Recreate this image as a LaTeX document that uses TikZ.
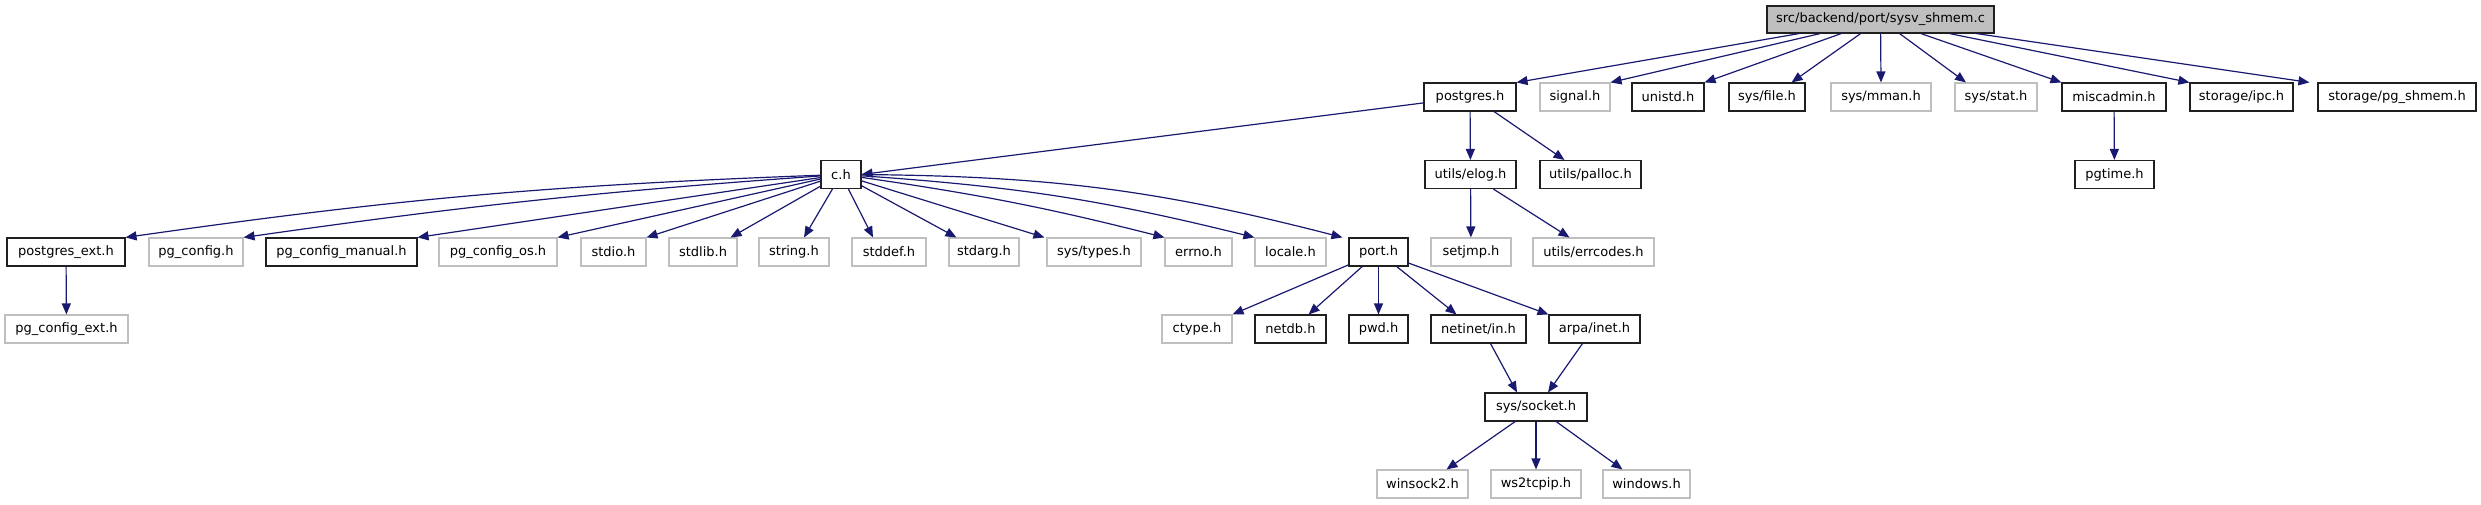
\documentclass[tikz,border=0pt]{standalone}
\usepackage{fontspec}
\setmainfont{DejaVu Sans}
\usetikzlibrary{arrows.meta}
\definecolor{edgeblue}{HTML}{191970}
\definecolor{undoc}{HTML}{BFBFBF}
\definecolor{docborder}{HTML}{202020}
\begin{document}
\begin{tikzpicture}[x=0.5pt,y=0.5pt,
  box/.style={rectangle, inner sep=0pt, minimum height=14pt, line width=0.55pt, font=\fontsize{6.5}{7.5}\selectfont},
  nb/.style={box, draw=docborder, fill=white},
  ng/.style={box, draw=undoc, fill=white},
  nr/.style={box, draw=docborder, fill=undoc, minimum height=13.5pt},
  dep/.style={draw=edgeblue, line width=0.6pt, -{Triangle[length=5.5pt,width=4.5pt]}}
]
\useasboundingbox (0,0) rectangle (2481,504);
% row 1
\node[nr, minimum width=113.5pt] (root) at (1880.5,484.5) {src/backend/port/sysv\_shmem.c};
% row 2
\node[nb, minimum width=46pt] (postgres) at (1470,407) {postgres.h};
\node[ng, minimum width=35pt] (signal) at (1575,407) {signal.h};
\node[nb, minimum width=36pt] (unistd) at (1668,407) {unistd.h};
\node[nb, minimum width=38pt] (sysfile) at (1767,407) {sys/file.h};
\node[ng, minimum width=50pt] (sysmman) at (1881,407) {sys/mman.h};
\node[ng, minimum width=41pt] (sysstat) at (1996,407) {sys/stat.h};
\node[nb, minimum width=52pt] (miscadmin) at (2114,407) {miscadmin.h};
\node[nb, minimum width=51.5pt] (ipc) at (2241.5,407) {storage/ipc.h};
\node[nb, minimum width=79pt] (pgshmem) at (2397,407) {storage/pg\_shmem.h};
% row 3
\node[nb, minimum width=20pt] (c) at (841,329.5) {c.h};
\node[nb, minimum width=45.5pt] (elog) at (1470.5,329.5) {utils/elog.h};
\node[nb, minimum width=50.5pt] (palloc) at (1590.5,329.5) {utils/palloc.h};
\node[nb, minimum width=39.5pt] (pgtime) at (2114.5,329.5) {pgtime.h};
% row 4
\node[nb, minimum width=59pt] (pe) at (66,252) {postgres\_ext.h};
\node[ng, minimum width=47pt] (pgconfig) at (196,252) {pg\_config.h};
\node[nb, minimum width=75.5pt] (pgcm) at (341.5,252) {pg\_config\_manual.h};
\node[ng, minimum width=59pt] (pgcos) at (498,252) {pg\_config\_os.h};
\node[ng, minimum width=32.5pt] (stdio) at (613.5,252) {stdio.h};
\node[ng, minimum width=34pt] (stdlib) at (703,252) {stdlib.h};
\node[ng, minimum width=35pt] (string) at (794,252) {string.h};
\node[ng, minimum width=37pt] (stddef) at (889,252) {stddef.h};
\node[ng, minimum width=35pt] (stdarg) at (984,252) {stdarg.h};
\node[ng, minimum width=47pt] (systypes) at (1094,252) {sys/types.h};
\node[ng, minimum width=33.5pt] (errno) at (1198.5,252) {errno.h};
\node[ng, minimum width=35.5pt] (locale) at (1290.5,252) {locale.h};
\node[nb, minimum width=29.5pt] (port) at (1378.5,252) {port.h};
\node[ng, minimum width=40pt] (setjmp) at (1471,252) {setjmp.h};
\node[ng, minimum width=60.5pt] (errcodes) at (1593.5,252) {utils/errcodes.h};
% row 5
\node[ng, minimum width=61.5pt] (pgce) at (66.5,175) {pg\_config\_ext.h};
\node[ng, minimum width=35pt] (ctype) at (1197,175) {ctype.h};
\node[nb, minimum width=35.5pt] (netdb) at (1290.5,175) {netdb.h};
\node[nb, minimum width=29.5pt] (pwd) at (1378.5,175) {pwd.h};
\node[nb, minimum width=47.5pt] (netinet) at (1478.5,175) {netinet/in.h};
\node[nb, minimum width=45.5pt] (arpa) at (1594.5,175) {arpa/inet.h};
% row 6
\node[nb, minimum width=51pt] (socket) at (1536,97) {sys/socket.h};
% row 7
\node[ng, minimum width=45.5pt] (winsock) at (1422.5,20) {winsock2.h};
\node[ng, minimum width=45pt] (ws2) at (1536,20) {ws2tcpip.h};
\node[ng, minimum width=43.5pt] (windows) at (1646.5,20) {windows.h};
% edges from root
\draw[dep] (root) -- (postgres.north east);
\draw[dep] (root) -- (signal.north east);
\draw[dep] (root) -- (unistd.north east);
\draw[dep] (root) -- ([xshift=-7pt]sysfile.north east);
\draw[dep] (root) -- (sysmman.north);
\draw[dep] (root) -- ([xshift=-15pt]sysstat.north);
\draw[dep] (root) -- (miscadmin.north west);
\draw[dep] (root) -- (ipc.north west);
\draw[dep] (root) -- ([xshift=-4pt]pgshmem.north west);
% postgres.h
\draw[dep] (postgres) -- (c.east);
\draw[dep] (postgres) -- (elog);
\draw[dep] ([xshift=12pt]postgres.south) -- ([xshift=-13pt]palloc.north);
% miscadmin
\draw[dep] (miscadmin) -- (pgtime);
% c.h
\draw[dep] (c) to[bend right=3] (pe.north east);
\draw[dep] (c) to[bend right=2] (pgconfig.north east);
\draw[dep] (c) -- (pgcm.north east);
\draw[dep] (c) -- (pgcos.north east);
\draw[dep] (c) -- (stdio.north east);
\draw[dep] (c) -- ([xshift=-3.5pt]stdlib.north east);
\draw[dep] (c) -- ([xshift=5pt]string.north);
\draw[dep] (c) -- ([xshift=-8pt]stddef.north);
\draw[dep] (c) -- ([xshift=4pt]stdarg.north west);
\draw[dep] (c) -- ([xshift=-1pt]systypes.north west);
\draw[dep] (c) to[bend left=3] (errno.north west);
\draw[dep] (c) to[bend left=5] (locale.north west);
\draw[dep] (c) to[bend left=7] ([xshift=-3pt]port.north west);
% postgres_ext
\draw[dep] (pe) -- (pgce);
% elog
\draw[dep] (elog) -- (setjmp);
\draw[dep] (elog) -- ([xshift=-12pt]errcodes.north);
% port.h
\draw[dep] (port) -- (ctype.north east);
\draw[dep] (port) -- ([xshift=-9pt]netdb.north east);
\draw[dep] (port) -- (pwd);
\draw[dep] (port) -- ([xshift=-11pt]netinet.north);
\draw[dep] (port) -- (arpa.north west);
% socket
\draw[dep] ([xshift=6pt]netinet.south) -- ([xshift=-9.5pt]socket.north);
\draw[dep] ([xshift=-6pt]arpa.south) -- ([xshift=6pt]socket.north);
\draw[dep] (socket) -- ([xshift=12pt]winsock.north);
\draw[dep] (socket) -- (ws2);
\draw[dep] (socket) -- ([xshift=-12pt]windows.north);
\end{tikzpicture}
\end{document}
